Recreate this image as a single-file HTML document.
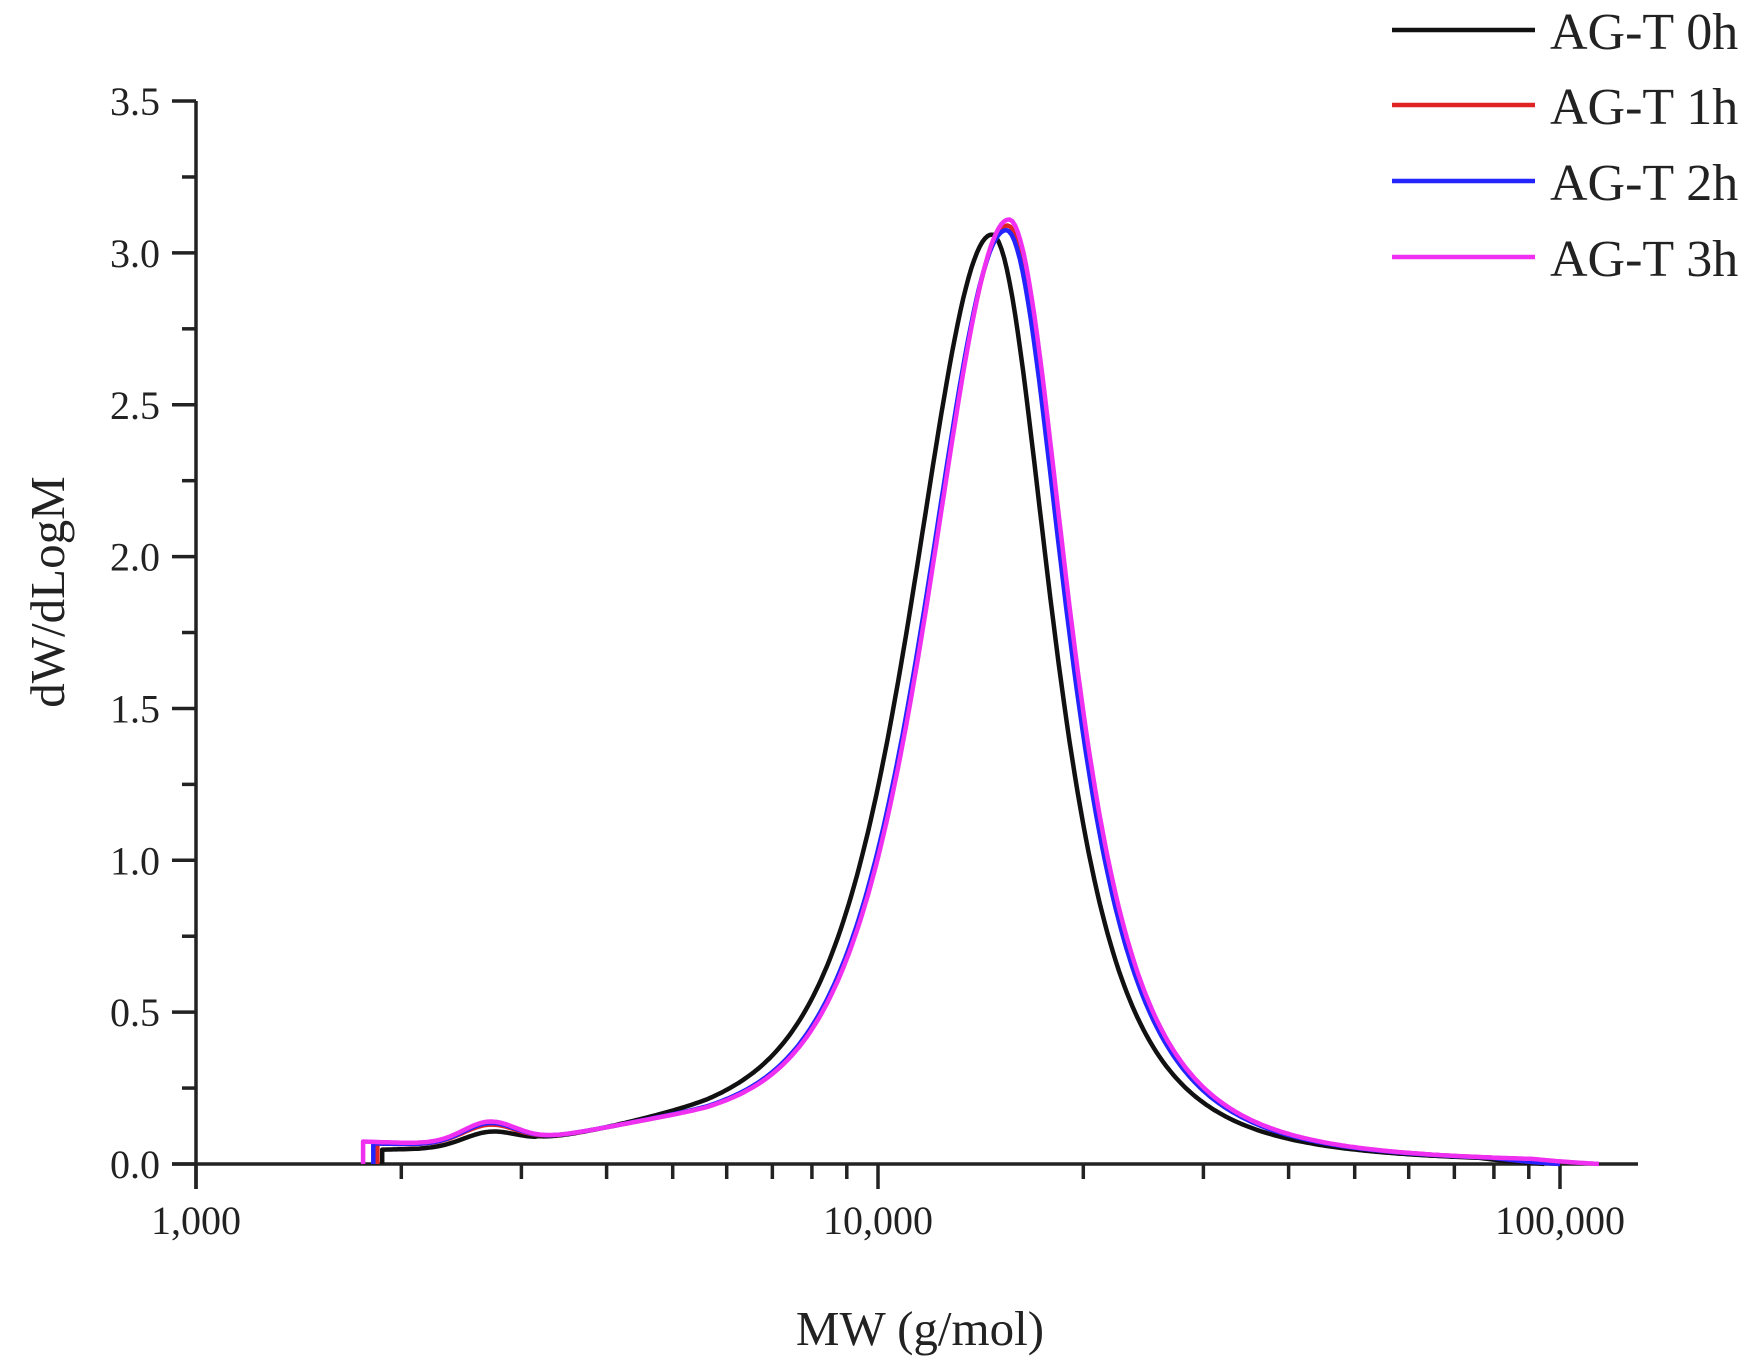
<!DOCTYPE html>
<html><head><meta charset="utf-8"><style>
html,body{margin:0;padding:0;background:#fff;}
svg text{font-family:"Liberation Serif",serif;fill:#222;}
</style></head><body>
<svg id="s" width="1761" height="1365" xmlns="http://www.w3.org/2000/svg">
<g id="axes" stroke="#222" stroke-width="3.5" fill="none"></g>
<g id="curves" fill="none" stroke-width="4.5" stroke-linejoin="round"></g>
<g id="txt"></g>
<g stroke-width="4.5">
<line x1="1392" y1="30" x2="1535" y2="30" stroke="#111"/>
<line x1="1392" y1="105" x2="1535" y2="105" stroke="#e02424"/>
<line x1="1392" y1="181" x2="1535" y2="181" stroke="#2424ff"/>
<line x1="1392" y1="257" x2="1535" y2="257" stroke="#f030f0"/>
</g>
<g font-size="52">
<text x="1550" y="49">AG-T 0h</text>
<text x="1550" y="124">AG-T 1h</text>
<text x="1550" y="200">AG-T 2h</text>
<text x="1550" y="276">AG-T 3h</text>
</g>
<text x="920" y="1345" font-size="49" text-anchor="middle">MW (g/mol)</text>
<text transform="translate(64,592) rotate(-90)" font-size="49" text-anchor="middle">dW/dLogM</text>
</svg>
<script>
var X0=196,D=682,Y0=1164,YS=303.7;
function px(l){return X0+(l-3)*D;}function py(v){return Y0-v*YS;}
var ax=document.getElementById('axes'),tx=document.getElementById('txt'),NS='http://www.w3.org/2000/svg';
function el(p,t,a,s){var e=document.createElementNS(NS,t);for(var k in a)e.setAttribute(k,a[k]);if(s)e.textContent=s;p.appendChild(e);return e;}
el(ax,'line',{x1:X0,y1:101,x2:X0,y2:Y0+25});
el(ax,'line',{x1:172,y1:Y0,x2:1638,y2:Y0});
for(var i=0;i<=14;i++){var v=i*0.25,y=py(v);el(ax,'line',{x1:i%2?182:172,y1:y,x2:X0,y2:y});
 if(i%2==0)el(tx,'text',{x:160,y:y+14,'font-size':40,'text-anchor':'end'},(v).toFixed(1));}
for(var d=3;d<5.1;d++){for(var m=1;m<10;m++){var l=d+Math.log10(m);if(l>5.05)break;var x=px(l);
 el(ax,'line',{x1:x,y1:Y0,x2:x,y2:Y0+(m==1?25:15)});}}
el(tx,'text',{x:px(3),y:Y0+70,'font-size':40,'text-anchor':'middle'},'1,000');
el(tx,'text',{x:px(4),y:Y0+70,'font-size':40,'text-anchor':'middle'},'10,000');
el(tx,'text',{x:px(5),y:Y0+70,'font-size':40,'text-anchor':'middle'},'100,000');
var cg=document.getElementById('curves');
var S=[{c:'#111',ce:4.167,H:3.06,st:3.273,sv:0.07,bump:0.045,end:4.98,sh:0},
{c:'#e02424',ce:4.19,H:3.09,st:3.266,sv:0.09,bump:0.06,end:5.0,sh:0.02},
{c:'#2424ff',ce:4.188,H:3.075,st:3.26,sv:0.09,bump:0.065,end:5.0,sh:0.02},
{c:'#f030f0',ce:4.192,H:3.11,st:3.245,sv:0.095,bump:0.068,end:5.06,sh:0.022}];
S.forEach(function(s){
 function f(l){var d=l-s.ce,v;
  if(d<0){var x=d/0.22;v=s.H/Math.pow(1+x*x,2);}else{var x=d/0.137;v=s.H/Math.pow(1+x*x,1.5);}
  var base=0;if(l<3.75){base=0.065*Math.max(0,1-(l-3.25)/0.5);}
  v+=base+s.bump*Math.exp(-Math.pow((l-3.43)/0.055,2));
  v+=0.07*Math.exp(-Math.pow((l-3.72+s.sh)/0.2,2));
  if(l<3.5){v+=(s.sv-0.065-0.03)*(1-(l-s.st)/0.25);}
  if(l>s.end-0.1) v*=Math.max(0,(s.end-l)/0.1);
  return Math.max(0,v);}
 var p='M'+px(s.st).toFixed(1)+','+Y0+' L'+px(s.st).toFixed(1)+','+py(f(s.st)).toFixed(1);
 for(var l=s.st;l<=s.end;l+=0.004)p+=' L'+px(l).toFixed(1)+','+py(f(l)).toFixed(1);
 el(cg,'path',{d:p,stroke:s.c});});
</script>
</body></html>
